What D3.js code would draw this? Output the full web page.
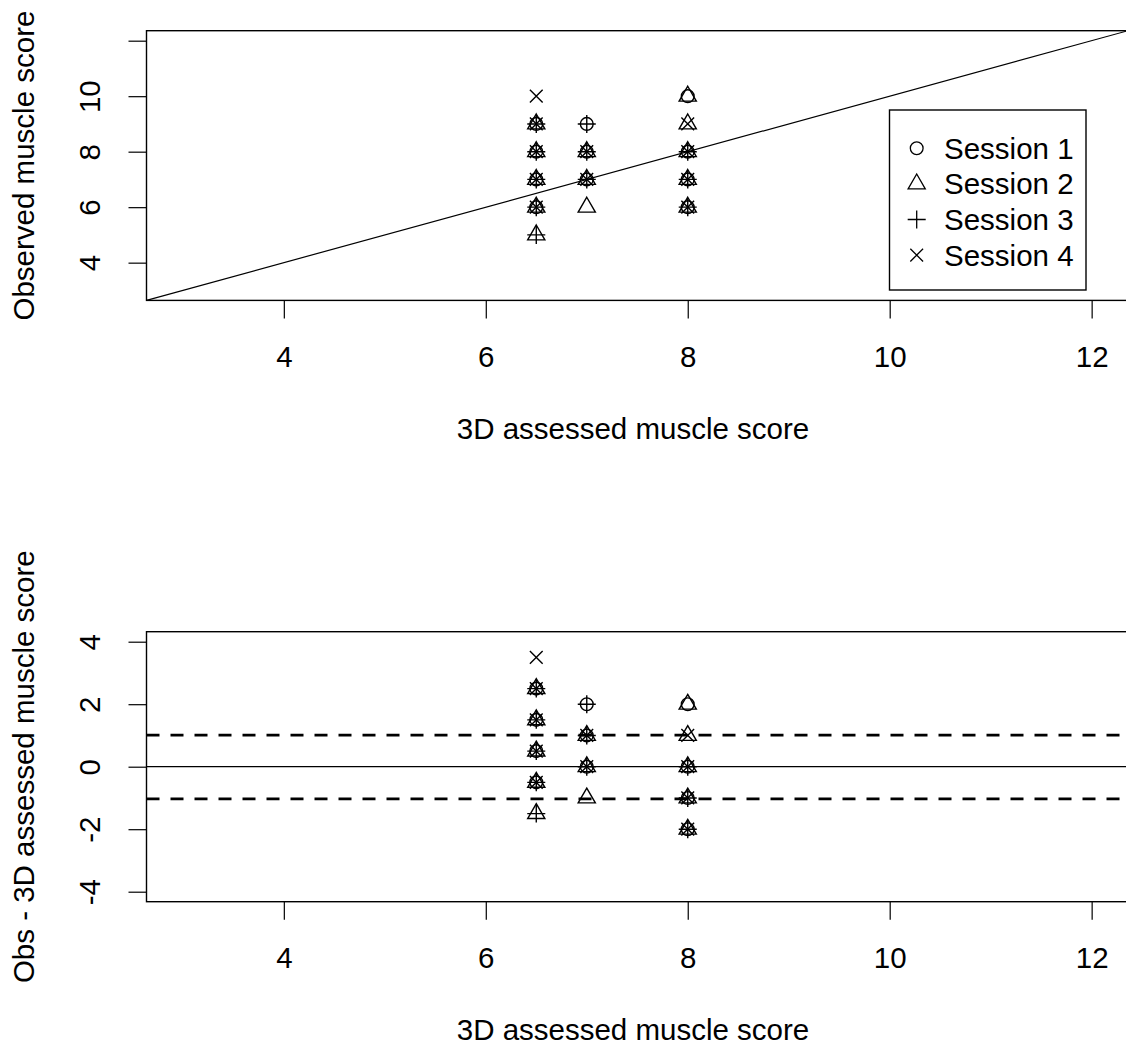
<!DOCTYPE html>
<html>
<head>
<meta charset="utf-8">
<script src="https://cdn.jsdelivr.net/npm/d3@7"></script>
<style>
  html, body { margin: 0; padding: 0; background: #fff; }
  svg text { font-family: "Liberation Sans", Arial, sans-serif; fill: #000; }
</style>
</head>
<body>
<svg id="chart" width="1126" height="1045"></svg>
<script>
// Sessions and their plotting symbols (R pch 1..4)
const sessionNames = ["Session 1", "Session 2", "Session 3", "Session 4"];
const sessionSymbols = ["circle", "triangle", "plus", "cross"];

// 3D assessed muscle score per session
const s1Assessed = [6.5, 6.5, 6.5, 6.5, 7, 7, 7, 8, 8, 8, 8];
const s2Assessed = [6.5, 6.5, 6.5, 6.5, 6.5, 7, 7, 7, 8, 8, 8, 8, 8];
const s3Assessed = [6.5, 6.5, 6.5, 6.5, 6.5, 7, 7, 7, 8, 8, 8];
const s4Assessed = [6.5, 6.5, 6.5, 6.5, 6.5, 7, 7, 8, 8, 8, 8];

// Observed muscle score per session
const s1Observed = [6, 7, 8, 9, 7, 8, 9, 6, 7, 8, 10];
const s2Observed = [5, 6, 7, 8, 9, 6, 7, 8, 6, 7, 8, 9, 10];
const s3Observed = [5, 6, 7, 8, 9, 7, 8, 9, 6, 7, 8];
const s4Observed = [6, 7, 8, 9, 10, 7, 8, 6, 7, 8, 9];

// Axis settings and reference lines
const xTicks = [4, 6, 8, 10, 12];
const yTicksTop = [4, 6, 8, 10, 12];
const yTickLabelsTop = ["4", "6", "8", "10", ""];
const yTicksBottom = [-4, -2, 0, 2, 4];
const xLimits = [3, 12];
const yLimitsTop = [3, 12];
const yLimitsBottom = [-4, 4];
const meanDiff = 0;
const agreementLimits = [1.01, -1.03];

const assessedBySession = [s1Assessed, s2Assessed, s3Assessed, s4Assessed];
const observedBySession = [s1Observed, s2Observed, s3Observed, s4Observed];

// R-style 4% axis extension
function extend(lim) {
  const d = (lim[1] - lim[0]) * 0.04;
  return [lim[0] - d, lim[1] + d];
}

const svg = d3.select("#chart");
const FONT = 29.5;
const SYM = 17;

// Symbol shapes following R's pch geometry
function symbolPath(kind) {
  const R = 0.375 * SYM;
  if (kind === "circle") {
    const p = d3.path(); p.arc(0, 0, R, 0, 2 * Math.PI); p.closePath(); return p.toString();
  }
  if (kind === "triangle") {
    const r = 1.5551 * R, xc = r * Math.sqrt(3) / 2, yc = r / 2;
    return `M0,${-r}L${xc},${yc}L${-xc},${yc}Z`;
  }
  if (kind === "plus") {
    const xc = Math.SQRT2 * R;
    return `M${-xc},0H${xc}M0,${-xc}V${xc}`;
  }
  const xc = R;
  return `M${-xc},${-xc}L${xc},${xc}M${-xc},${xc}L${xc},${-xc}`;
}

const left = 146.5, right = 1128;
const panels = [
  { top: 30.7, bottom: 300.4, yLim: yLimitsTop, yTicks: yTicksTop, yLabels: yTickLabelsTop,
    yTitle: "Observed muscle score", diff: false },
  { top: 631.7, bottom: 901.7, yLim: yLimitsBottom, yTicks: yTicksBottom, yLabels: yTicksBottom.map(String),
    yTitle: "Obs - 3D assessed muscle score", diff: true }
];

panels.forEach((pn, idx) => {
  const x = d3.scaleLinear().domain(extend(xLimits)).range([left, right]);
  const y = d3.scaleLinear().domain(extend(pn.yLim)).range([pn.bottom, pn.top]);
  const g = svg.append("g");
  const clipId = "clip" + idx;
  svg.append("clipPath").attr("id", clipId).append("rect")
    .attr("x", left).attr("y", pn.top).attr("width", right - left).attr("height", pn.bottom - pn.top);

  // points
  const pts = g.append("g");
  assessedBySession.forEach((xs, si) => {
    const ys = observedBySession[si];
    xs.forEach((xv, i) => {
      const yv = pn.diff ? ys[i] - xv : ys[i];
      pts.append("path")
        .attr("d", symbolPath(sessionSymbols[si]))
        .attr("transform", `translate(${x(xv)},${y(yv)})`)
        .attr("fill", "none").attr("stroke", "#000").attr("stroke-width", 1.4);
    });
  });

  // reference lines
  const lines = g.append("g").attr("clip-path", `url(#${clipId})`);
  if (!pn.diff) {
    const d = extend(xLimits);
    lines.append("line")
      .attr("x1", x(d[0])).attr("y1", y(d[0])).attr("x2", x(d[1])).attr("y2", y(d[1]))
      .attr("stroke", "#000").attr("stroke-width", 1.2);
  } else {
    lines.append("line")
      .attr("x1", left).attr("x2", right).attr("y1", y(meanDiff)).attr("y2", y(meanDiff))
      .attr("stroke", "#000").attr("stroke-width", 1.3);
    agreementLimits.forEach(v => {
      lines.append("line")
        .attr("x1", left).attr("x2", right).attr("y1", y(v)).attr("y2", y(v))
        .attr("stroke", "#000").attr("stroke-width", 2.6)
        .attr("stroke-dasharray", "13 11");
    });
  }

  // box
  g.append("rect").attr("x", left).attr("y", pn.top)
    .attr("width", right - left).attr("height", pn.bottom - pn.top)
    .attr("fill", "none").attr("stroke", "#000").attr("stroke-width", 1.4);

  // x axis
  const xa = g.append("g").attr("transform", `translate(0,${pn.bottom})`)
    .call(d3.axisBottom(x).tickValues(xTicks).tickFormat(d3.format("d")).tickSize(18).tickSizeOuter(0));
  xa.select(".domain").remove();
  xa.selectAll(".tick line").attr("stroke", "#000").attr("stroke-width", 1.2);
  xa.selectAll(".tick text").attr("font-size", FONT).attr("y", 66.5).attr("dy", 0)
    .style("font-family", "'Liberation Sans', Arial, sans-serif");

  // y axis
  const ya = g.append("g").attr("transform", `translate(${left},0)`)
    .call(d3.axisLeft(y).tickValues(pn.yTicks).tickFormat((d, i) => pn.yLabels[i]).tickSize(18).tickSizeOuter(0));
  ya.select(".domain").remove();
  ya.selectAll(".tick line").attr("stroke", "#000").attr("stroke-width", 1.2);
  ya.selectAll(".tick text").attr("font-size", FONT)
    .attr("transform", "rotate(-90)").attr("x", 0).attr("y", -46.5).attr("dy", 0)
    .attr("text-anchor", "middle")
    .style("font-family", "'Liberation Sans', Arial, sans-serif");

  // axis titles
  g.append("text").attr("x", 633).attr("y", pn.bottom + 138.5)
    .attr("text-anchor", "middle").attr("font-size", FONT).text("3D assessed muscle score");
  g.append("text")
    .attr("transform", `translate(33.5,${(pn.top + pn.bottom) / 2}) rotate(-90)`)
    .attr("text-anchor", "middle").attr("font-size", FONT).text(pn.yTitle);

  // legend in the top panel
  if (!pn.diff) {
    const lg = g.append("g");
    lg.append("rect").attr("x", 889.5).attr("y", 110).attr("width", 196.5).attr("height", 180)
      .attr("fill", "#fff").attr("stroke", "#000").attr("stroke-width", 1.4);
    sessionNames.forEach((name, i) => {
      const cy = 148.3 + i * 35.6;
      lg.append("path").attr("d", symbolPath(sessionSymbols[i]))
        .attr("transform", `translate(916.7,${cy})`)
        .attr("fill", "none").attr("stroke", "#000").attr("stroke-width", 1.3);
      lg.append("text").attr("x", 944).attr("y", cy + 10.4).attr("font-size", FONT).text(name);
    });
  }
});
</script>
</body>
</html>
